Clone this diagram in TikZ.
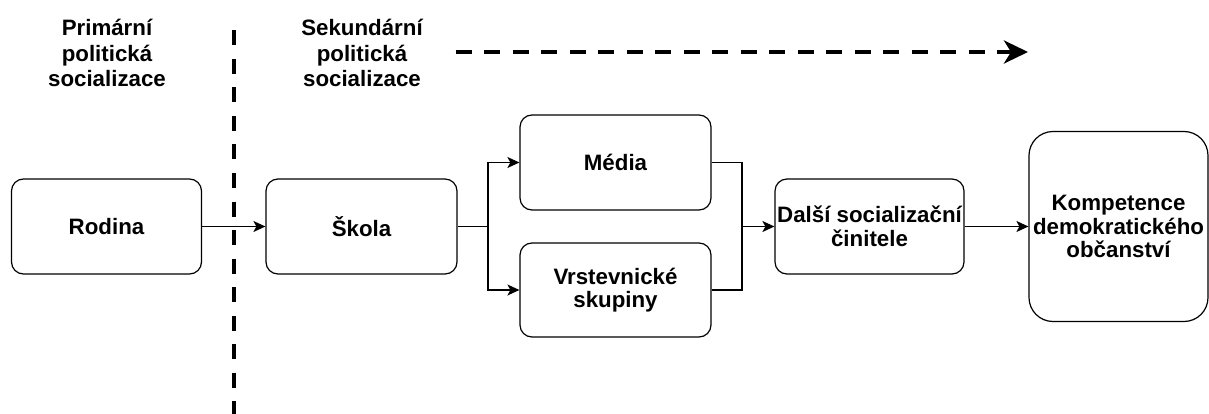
\documentclass[tikz,border=0pt]{standalone}
\usepackage{fontspec}
\setmainfont{Liberation Sans}
\usetikzlibrary{arrows.meta}
\begin{document}
\begin{tikzpicture}[x=1pt,y=-1pt,
  box/.style={draw=black, line width=1.2pt, rounded corners=12pt, align=center, inner sep=0pt,
    font=\fontsize{22.3}{23.5}\selectfont\bfseries},
  lbl/.style={align=center, inner sep=0pt, font=\fontsize{22.3}{25.5}\selectfont\bfseries},
  arr/.style={line width=1.3pt, -{Stealth[length=12pt,width=11pt,inset=3pt]}},
  conn/.style={line width=1.3pt},
  dline/.style={line width=4.5pt, dash pattern=on 15pt off 13.5pt},
  darr/.style={line width=4pt, dash pattern=on 16pt off 12.5pt, -{Stealth[length=24pt,width=23pt,inset=7pt]}}
]
\useasboundingbox (0,0) rectangle (1209,414);

\node[lbl] (prim) at (107,53) {Primární\\politická\\socializace};
\node[lbl] (sek) at (362,53) {Sekundární\\politická\\socializace};

\coordinate (vtop) at (234,30.5);
\coordinate (vbot) at (234,416);
\draw[dline] (vtop) -- (vbot);

\coordinate (hs) at (455.5,52);
\coordinate (he) at (1028,52);
\draw[darr] (hs) -- (he);

\node[box, minimum width=190pt, minimum height=95pt] (rod) at (106.5,226.5) {Rodina};
\node[box, minimum width=191pt, minimum height=95pt] (sko) at (361.5,226.5) {Škola};
\node[box, minimum width=191pt, minimum height=95pt] (med) at (615.5,162.5) {Média};
\node[box, minimum width=191pt, minimum height=94pt] (vrs) at (615.5,290) {Vrstevnické\\skupiny};
\node[box, minimum width=189pt, minimum height=95pt] (dal) at (869.5,226.5) {Další socializační\\činitele};
\node[box, rounded corners=24pt, minimum width=179pt, minimum height=190pt] (kom) at (1118.5,226.5) {Kompetence\\demokratického\\občanství};

\draw[arr] (rod.east) -- (sko.west);
\coordinate (br) at (488,226.5);
\draw[conn] (sko.east) -- (br);
\draw[arr] (br) |- (med.west);
\draw[arr] (br) |- (vrs.west);
\coordinate (mg) at (742,226.5);
\draw[conn] (med.east) -| (mg);
\draw[conn] (vrs.east) -| (mg);
\draw[arr] (mg) -- (dal.west);
\draw[arr] (dal.east) -- (kom.west);
\end{tikzpicture}
\end{document}
